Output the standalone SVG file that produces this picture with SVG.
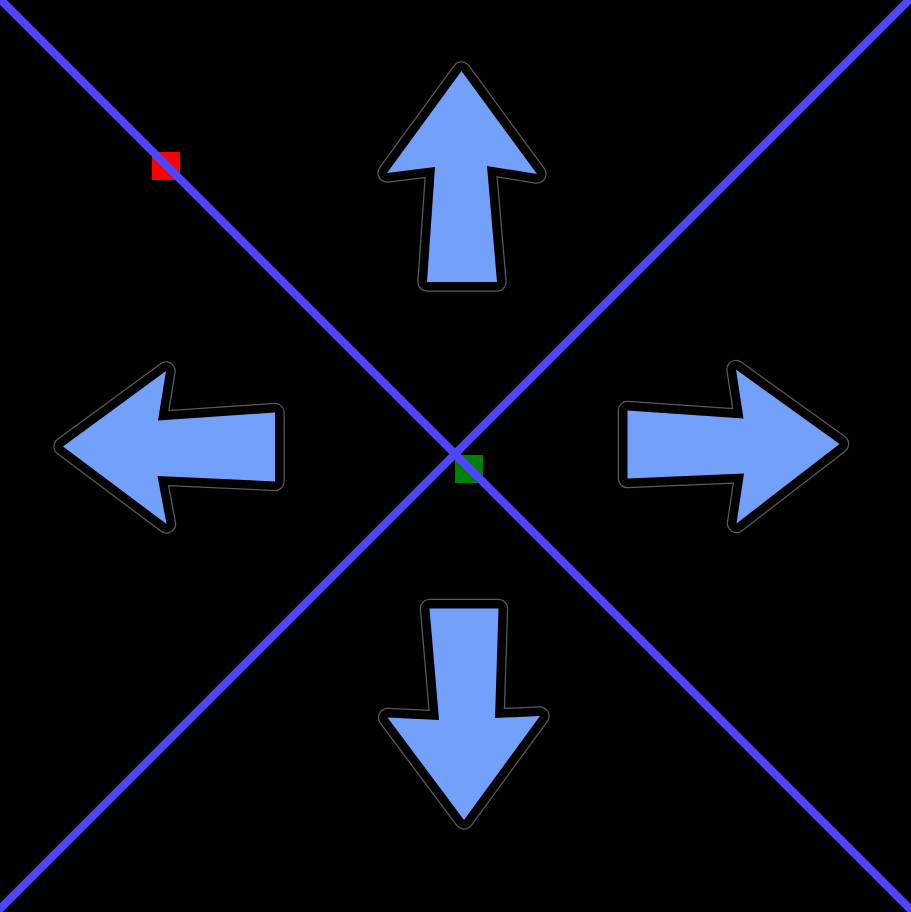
<svg xmlns="http://www.w3.org/2000/svg" width="911" height="912" viewBox="0 0 911 912">
<style>
.edge{fill:none;stroke:#5a5a5a;stroke-width:19.5;stroke-linejoin:round}
.out{fill:none;stroke:#000;stroke-width:17;stroke-linejoin:round}
.blue{fill:#73A0FA;stroke:none}
.diag{stroke:#5046FF;stroke-width:8;stroke-linecap:butt}
</style>
<defs>
<polygon id="pUp" points="461.5,71 537,174 487,166 497,282 427,282 435,167 387,173"/>
<polygon id="pLeft" points="63,446.5 166,371 158,420.5 275,412.5 275,481.5 157.5,476 166.5,524"/>
<polygon id="pRight" points="839.5,444 736,369.5 743.5,418.5 627.5,410.5 627.5,478.5 744,473.5 736.5,523.5"/>
<polygon id="pDown" points="464,820 540,716 495,718 498.5,608.5 429.5,608.5 439,720 387.5,717.5"/>
</defs>
<rect width="911" height="912" fill="#000"/>
<g id="arrow-up"><use href="#pUp" class="edge"/><use href="#pUp" class="out"/><use href="#pUp" class="blue"/></g>
<g id="arrow-left"><use href="#pLeft" class="edge"/><use href="#pLeft" class="out"/><use href="#pLeft" class="blue"/></g>
<g id="arrow-right"><use href="#pRight" class="edge"/><use href="#pRight" class="out"/><use href="#pRight" class="blue"/></g>
<g id="arrow-down"><use href="#pDown" class="edge"/><use href="#pDown" class="out"/><use href="#pDown" class="blue"/></g>
<g id="red-square"><rect x="152" y="152" width="28" height="28" fill="#FF0000"/></g>
<g id="green-square"><rect x="455" y="455" width="28" height="28" fill="#008000"/></g>
<g id="connectors">
<line class="diag" x1="-10" y1="-11" x2="921" y2="920"/>
<line class="diag" x1="919" y1="-10" x2="-10" y2="919"/>
</g>
</svg>
